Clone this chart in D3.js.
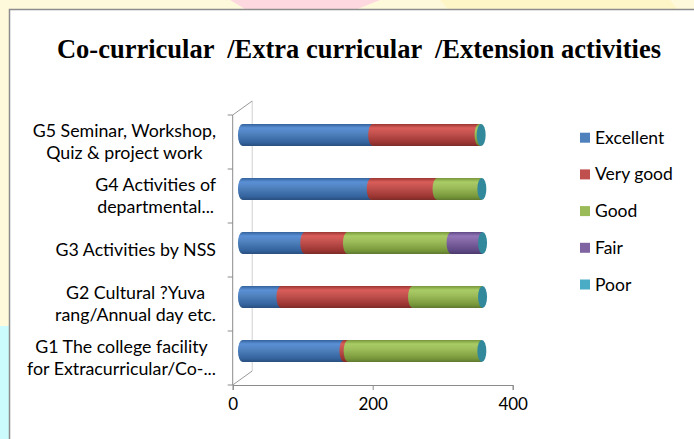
<!DOCTYPE html>
<html>
<head>
<meta charset="utf-8">
<script src="https://cdn.jsdelivr.net/npm/d3@7"></script>
<style>
	body { margin: 0; background: #fff; }
	svg { display: block; }
</style>
</head>
<body>
<script>
// categories, bottom to top as in the chart
var categories = [
	['G1 The college facility', 'for Extracurricular/Co-...'],
	['G2 Cultural ?Yuva', 'rang/Annual day etc.'],
	['G3 Activities by NSS'],
	['G4 Activities of', 'departmental...'],
	['G5 Seminar, Workshop,', 'Quiz & project work']
];
var series = ['Excellent', 'Very good', 'Good', 'Fair', 'Poor'];
var excellent = [145, 55, 89, 184, 186];
var very_good = [6, 188, 61, 94, 152];
var good = [191, 100, 148, 64, 3];
var fair = [0, 0, 45, 0, 0];
var poor = [0, 0, 0, 0, 0];
var x_ticks = [0, 200, 400];
var title = 'Co-curricular  /Extra curricular  /Extension activities';

var colors = ['#4F81BD', '#C0504D', '#9BBB59', '#8064A2', '#4BACC6'];
var darks = ['#33629C', '#9A3532', '#76963A', '#5E4884', '#2E8A9E'];
var lights = ['#5B90D6', '#DA5E5A', '#AACC66', '#9276B8', '#5CC0DA'];

function plot_it() {
	var width = 694, height = 439;
	var svg = d3.select('body').append('svg').attr('width', width).attr('height', height);

	// slide background behind the chart box
	svg.append('rect').attr('width', width).attr('height', height).attr('fill', '#FFF9DC');
	svg.append('rect').attr('x', 0).attr('y', 326).attr('width', 12).attr('height', 113).attr('fill', '#CCFBFE');
	svg.append('path').attr('d', 'M230,0 L380,0 L350,12 L250,12 Z').attr('fill', '#FDD8DE');
	svg.append('path').attr('d', 'M440,0 L670,0 L680,12 L450,12 Z').attr('fill', '#FFF6C8');
	svg.append('rect').attr('x', 9.5).attr('y', 9.5).attr('width', 700).attr('height', 450)
		.attr('fill', '#fff').attr('stroke', '#8C8C8C').attr('stroke-width', 1.5);

	// title (keeps the double spaces)
	svg.append('text').attr('x', 359).attr('y', 58).attr('text-anchor', 'middle')
		.style('white-space', 'pre')
		.attr('font-family', '"Liberation Serif", "Times New Roman", serif').attr('font-weight', 'bold')
		.attr('font-size', 26.5).attr('fill', '#000').text(title);

	// front plane of the 3d plot
	var x0 = 232.7, x1 = 512.7, y_top = 115, y_bot = 385;
	var dx = 19.5, dy = -14;
	var x = d3.scaleLinear().domain([0, 400]).range([x0, x1]);
	var y = d3.scaleBand().domain(d3.range(categories.length)).range([y_bot, y_top]);

	// walls
	var walls = svg.append('g').attr('fill', 'none');
	walls.append('line').attr('x1', x0 + dx).attr('x2', x0 + dx).attr('y1', y_top + dy).attr('y2', y_bot + dy)
		.attr('stroke', '#D0D0D0');
	walls.append('line').attr('x1', x0).attr('x2', x0 + dx).attr('y1', y_top).attr('y2', y_top + dy)
		.attr('stroke', '#9A9A9A');
	walls.append('line').attr('x1', x0).attr('x2', x0 + dx).attr('y1', y_bot).attr('y2', y_bot + dy)
		.attr('stroke', '#9A9A9A');

	// category axis
	var axis_c = '#8C8C8C';
	walls.append('line').attr('x1', x0).attr('x2', x0).attr('y1', y_top).attr('y2', y_bot).attr('stroke', axis_c);
	walls.selectAll('.ctick').data(d3.range(categories.length + 1)).enter().append('line')
		.attr('x1', x0 - 5).attr('x2', x0)
		.attr('y1', d => y_bot - d * y.step()).attr('y2', d => y_bot - d * y.step())
		.attr('stroke', axis_c);

	// value axis
	var xa = svg.append('g').attr('transform', 'translate(0,' + y_bot + ')')
		.call(d3.axisBottom(x).tickValues(x_ticks).tickSize(5).tickPadding(8));
	xa.select('.domain').attr('stroke', axis_c);
	xa.selectAll('.tick line').attr('stroke', axis_c);
	xa.selectAll('text').attr('font-family', 'Lato, "Noto Sans", sans-serif').attr('font-size', 17).attr('fill', '#000');

	// category labels, each block centred and pushed against the axis
	var labels = svg.append('g').attr('font-family', 'Lato, "Noto Sans", sans-serif').attr('font-size', 17.8).attr('fill', '#000');
	categories.forEach((lines, i) => {
		var cy = y(i) + y.bandwidth() / 2;
		var g = labels.append('g');
		var lh = 21.5;
		var texts = lines.map((s, j) => g.append('text').attr('text-anchor', 'middle')
			.attr('y', cy + (j - (lines.length - 1) / 2) * lh + 6).text(s));
		var maxw = d3.max(texts, t => t.node().getComputedTextLength());
		texts.forEach(t => t.attr('x', 216 - maxw / 2));
	});

	// gradients for the cylinders
	var defs = svg.append('defs');
	series.forEach((s, k) => {
		var gr = defs.append('linearGradient').attr('id', 'cyl' + k).attr('x1', 0).attr('x2', 0).attr('y1', 0).attr('y2', 1);
		gr.append('stop').attr('offset', '0%').attr('stop-color', darks[k]);
		gr.append('stop').attr('offset', '18%').attr('stop-color', lights[k]);
		gr.append('stop').attr('offset', '45%').attr('stop-color', colors[k]);
		gr.append('stop').attr('offset', '85%').attr('stop-color', darks[k]);
		gr.append('stop').attr('offset', '100%').attr('stop-color', d3.color(darks[k]).darker(0.6));
	});

	// stack the series
	var table = categories.map((c, i) => ({
		i: i, Excellent: excellent[i], 'Very good': very_good[i], Good: good[i], Fair: fair[i], Poor: poor[i]
	}));
	var stacked = d3.stack().keys(series)(table);

	var bar_h = 22, rx = 4.5;
	var bx = dx / 2, by = dy / 2;
	var bars = svg.append('g').attr('transform', 'translate(' + bx + ',' + by + ')');
	stacked.forEach((layer, k) => {
		var g = bars.append('g');
		layer.forEach((d, i) => {
			if (d[1] - d[0] <= 0) return;
			var cy = y(i) + y.bandwidth() / 2;
			g.append('ellipse').attr('cx', x(d[0])).attr('cy', cy).attr('rx', rx).attr('ry', bar_h / 2)
				.attr('fill', 'url(#cyl' + k + ')');
			g.append('rect').attr('x', x(d[0])).attr('y', cy - bar_h / 2)
				.attr('width', x(d[1]) - x(d[0])).attr('height', bar_h)
				.attr('fill', 'url(#cyl' + k + ')');
		});
	});
	// end caps (face of the last stacked series)
	var last = stacked[stacked.length - 1];
	bars.selectAll('.cap').data(last).enter().append('ellipse')
		.attr('cx', d => x(d[1])).attr('cy', (d, i) => y(i) + y.bandwidth() / 2)
		.attr('rx', rx).attr('ry', bar_h / 2)
		.attr('fill', '#31899B');

	// legend
	var legend = svg.append('g').attr('font-family', 'Lato, "Noto Sans", sans-serif').attr('font-size', 17.5).attr('fill', '#000');
	series.forEach((s, k) => {
		var ly = 137.7 + k * 36.7;
		legend.append('rect').attr('x', 580).attr('y', ly - 5).attr('width', 10).attr('height', 10).attr('fill', colors[k]);
		legend.append('text').attr('x', 595).attr('y', ly + 6).text(s);
	});
}
plot_it();
</script>
</body>
</html>
